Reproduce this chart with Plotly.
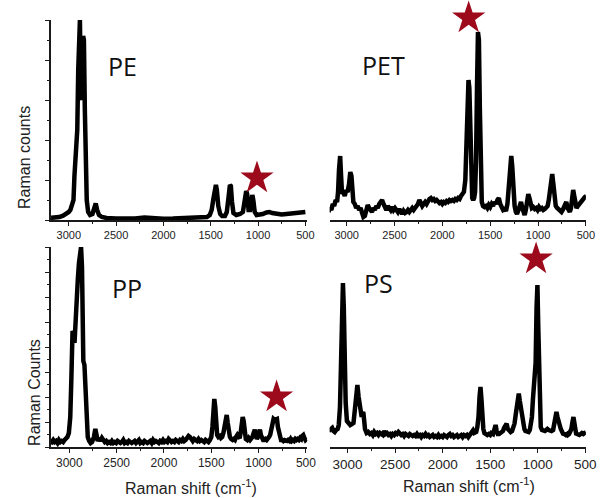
import plotly.graph_objects as go

W, H = 608, 498

# ---------------- data (wavenumber cm-1, relative counts 0-100) ----------------
pe_x = [3200, 3150, 3100, 3060, 3030, 3000, 2983, 2965, 2950, 2940, 2930, 2920, 2910, 2900, 2892, 2882,
        2872, 2864, 2856, 2848, 2840, 2830, 2820, 2810, 2795, 2775, 2750, 2730, 2715, 2700, 2680, 2650,
        2600, 2500, 2400, 2300, 2200, 2100, 2000, 1900, 1800, 1700, 1600, 1540, 1510, 1490, 1470, 1455,
        1445, 1435, 1420, 1400, 1380, 1350, 1330, 1310, 1297, 1287, 1275, 1260, 1230, 1190, 1160, 1140,
        1125, 1115, 1100, 1085, 1070, 1060, 1050, 1035, 1015, 990, 950, 910, 880, 850, 800, 750, 700,
        650, 600, 550, 500]
pe_y = [1, 1.2, 1.5, 2.2, 3, 4, 5, 7, 10, 22, 34, 38, 45, 75, 100, 100,
        62, 60, 85, 92, 90, 55, 25, 10, 4, 2.5, 3, 6, 8.3, 5, 2.5, 1.5,
        1, 0.8, 0.5, 0.7, 1.2, 0.8, 0.6, 0.7, 0.8, 0.9, 1.2, 1.5, 2.5, 5, 11, 16,
        17.5, 15, 7, 3, 2, 2, 4, 12, 17.5, 17, 9, 3.5, 2.5, 3, 4, 10,
        14.5, 13, 5, 5, 11, 12.5, 10, 4, 2.5, 2.5, 3, 3.8, 4, 3.5, 3, 2.8, 3,
        3.2, 3.3, 3.6, 4]

pet_x = [3190, 3175, 3160, 3145, 3130, 3115, 3100, 3090, 3080, 3068, 3058, 3048, 3035, 3020, 3005, 2990,
         2975, 2962, 2950, 2940, 2930, 2915, 2900, 2885, 2870, 2855, 2840, 2825, 2810, 2795, 2780, 2765,
         2750, 2735, 2720, 2705, 2690, 2675, 2660, 2645, 2630, 2615, 2600, 2585, 2570, 2555, 2540, 2525,
         2510, 2495, 2480, 2465, 2450, 2435, 2420, 2405, 2390, 2375, 2360, 2345, 2330, 2315, 2300, 2285,
         2270, 2255, 2240, 2225, 2210, 2195, 2180, 2165, 2150, 2135, 2120, 2105, 2090, 2075, 2060, 2045,
         2030, 2015, 2000, 1985, 1970, 1955, 1940, 1925, 1910, 1895, 1880, 1865, 1850, 1835, 1820, 1805,
         1790, 1775, 1760, 1745, 1735, 1727, 1718, 1708, 1698, 1688, 1678, 1668, 1658, 1648, 1638, 1628,
         1618, 1608, 1598, 1588, 1575, 1560, 1545, 1530, 1515, 1500, 1485, 1470, 1455, 1440, 1425, 1410,
         1395, 1380, 1365, 1350, 1335, 1320, 1305, 1292, 1280, 1270, 1258, 1245, 1232, 1220, 1205, 1190,
         1178, 1165, 1152, 1140, 1128, 1115, 1102, 1090, 1078, 1065, 1050, 1035, 1020, 1005, 990, 975,
         960, 945, 930, 915, 900, 888, 876, 864, 852, 840, 828, 815, 800, 785, 770, 755, 742, 730, 718,
         705, 692, 680, 668, 656, 645, 633, 622, 610, 598, 585, 570, 555, 540, 525, 510, 495]
pet_y = [4, 6, 5, 8, 7, 10, 9, 14, 25, 32, 22, 13, 14, 12, 15, 14,
         18, 24, 22, 14, 9, 8, 6, 7, 5, 6, 3, 1.5, 2, 4, 7.5, 6,
         5, 4, 6, 5, 7, 6, 8, 9.5, 10, 8, 6, 5, 7, 6, 5, 6.5,
         5, 6, 5, 4, 5.5, 4, 3, 4.5, 3.5, 4, 5, 4, 5.5, 6, 5, 6.5,
         7, 8, 10, 8.5, 7, 8, 9, 8, 9.5, 10.5, 11, 10, 10.5, 9.5, 10, 9,
         8.5, 9, 8, 9, 8.5, 9.5, 9, 10, 9.5, 10, 9.5, 10.5, 10, 11, 10.5, 12,
         13, 14, 20, 42, 63, 70, 66, 42, 18, 11, 10, 11, 14, 30, 66, 94,
         90, 55, 20, 9, 7, 6.5, 7, 6, 7.5, 6.5, 8, 7, 9, 8, 10, 11,
         8, 6, 5, 5.5, 4.5, 8, 15, 25, 32, 27, 14, 7, 4, 3, 5, 8,
         9, 6, 3, 2.5, 5, 10, 13, 11, 7, 6, 6.5, 5.5, 6, 5, 6.5, 5.5,
         6, 5, 5.5, 6, 7, 10, 16, 21, 23, 18, 10, 7, 6, 5.5, 5, 4, 5, 6, 8,
         9, 6, 4.5, 4, 6, 11, 15, 12, 7, 6, 7, 8, 9, 10, 11, 11.5, 12]

pp_x = [3200, 3185, 3170, 3155, 3140, 3125, 3110, 3095, 3080, 3065, 3050, 3035, 3020, 3005, 2990, 2979,
        2966, 2955, 2945, 2932, 2921, 2910, 2898, 2886, 2876, 2866, 2858, 2852, 2840, 2828, 2818, 2805,
        2790, 2775, 2760, 2740, 2725, 2712, 2700, 2685, 2670, 2655, 2640, 2625, 2610, 2595, 2580, 2565,
        2550, 2535, 2520, 2505, 2490, 2475, 2460, 2445, 2430, 2415, 2400, 2385, 2370, 2355, 2340, 2325,
        2310, 2295, 2280, 2265, 2250, 2235, 2220, 2205, 2190, 2175, 2160, 2145, 2130, 2115, 2100, 2085,
        2070, 2055, 2040, 2025, 2010, 1995, 1980, 1965, 1950, 1935, 1920, 1905, 1890, 1875, 1860, 1845,
        1830, 1815, 1800, 1785, 1770, 1755, 1740, 1725, 1710, 1695, 1680, 1665, 1650, 1635, 1620, 1605,
        1590, 1575, 1560, 1545, 1530, 1515, 1500, 1488, 1478, 1468, 1458, 1448, 1438, 1425, 1410, 1398,
        1385, 1372, 1360, 1348, 1337, 1326, 1315, 1303, 1290, 1275, 1262, 1250, 1238, 1225, 1212, 1200,
        1190, 1180, 1168, 1158, 1148, 1135, 1120, 1105, 1090, 1078, 1065, 1052, 1040, 1030, 1018, 1008,
        998, 986, 976, 965, 952, 940, 928, 915, 902, 890, 878, 866, 855, 842, 830, 818, 806, 796, 786,
        775, 763, 750, 738, 725, 712, 700, 688, 675, 662, 650, 638, 625, 612, 600, 588, 575, 562, 550,
        540, 528, 516, 505, 494]
pp_y = [3, 2.5, 3.5, 2.5, 3, 2, 3.5, 2.5, 3, 2.5, 3.5, 4, 5, 7, 15, 33,
        58, 57, 52, 70, 78, 84, 92, 100, 100, 90, 60, 43, 41, 25, 12, 5,
        3, 2, 2.5, 5, 9, 6, 3, 4.5, 3, 4.5, 3, 2.5, 3, 2, 2.5, 2,
        3, 2, 2.5, 2, 3, 2.5, 2, 2.5, 3.5, 2, 2.5, 2, 3, 2.5, 2, 2.5,
        3, 2, 2.5, 3.5, 2, 2.5, 2, 3, 2.5, 2, 2.5, 3, 2, 3.5, 2.5, 3,
        2.5, 2, 3, 2.5, 3.5, 2.5, 3, 2.5, 4, 3, 2.5, 3, 2.5, 3.5, 3, 2.5,
        3.5, 3, 4, 3, 3.5, 4.5, 5.5, 5, 3.5, 3, 4, 3.5, 3, 4, 3, 3.5,
        3, 2.5, 3.5, 3, 2.5, 3.5, 5, 10, 18, 24, 20, 10, 6, 5, 5.5, 4.5,
        5, 7, 11, 15, 16, 12, 7, 5, 4, 3.5, 4, 3.5, 5, 6, 5, 4.5,
        7, 12, 15, 13, 7, 4, 3.5, 4.5, 3.5, 4, 5, 7, 8.7, 6, 4, 5,
        8, 8.7, 6, 4.5, 3.5, 3.5, 4, 3.5, 5, 5, 6, 9, 12, 14, 13.5, 14, 14, 10, 7,
        5, 3.5, 3.5, 3, 3.5, 3, 3, 3.5, 3, 4, 3, 3.5, 3, 4, 3.5, 4, 3.5, 4.5, 4,
        5.5, 6, 4.5, 3.5, 4]

ps_x = [3200, 3189, 3175, 3162, 3148, 3135, 3120, 3105, 3093, 3080, 3069, 3058, 3049, 3040, 3030, 3020,
        3007, 2990, 2972, 2955, 2938, 2925, 2914, 2905, 2897, 2884, 2869, 2860, 2852, 2843, 2835, 2825,
        2817, 2800, 2783, 2765, 2750, 2735, 2720, 2705, 2690, 2675, 2660, 2645, 2630, 2615, 2600, 2585,
        2570, 2555, 2540, 2525, 2510, 2495, 2480, 2465, 2450, 2435, 2420, 2405, 2390, 2375, 2360, 2345,
        2330, 2315, 2300, 2285, 2270, 2255, 2240, 2225, 2210, 2195, 2180, 2165, 2150, 2135, 2120, 2105,
        2090, 2075, 2060, 2045, 2030, 2015, 2000, 1985, 1970, 1955, 1940, 1925, 1910, 1895, 1880, 1865,
        1850, 1835, 1820, 1805, 1790, 1775, 1760, 1745, 1730, 1715, 1700, 1688, 1681, 1668, 1655, 1647,
        1635, 1623, 1612, 1602, 1592, 1583, 1572, 1561, 1545, 1530, 1515, 1500, 1488, 1470, 1455, 1443,
        1432, 1420, 1406, 1392, 1378, 1365, 1354, 1340, 1327, 1315, 1300, 1285, 1270, 1257, 1244, 1232,
        1220, 1210, 1199, 1188, 1175, 1164, 1152, 1140, 1130, 1115, 1096, 1083, 1072, 1061, 1050, 1040,
        1030, 1022, 1012, 1003, 994, 986, 978, 968, 955, 940, 924, 910, 898, 885, 870, 855, 838, 825,
        815, 803, 792, 781, 769, 757, 745, 734, 720, 705, 690, 683, 670, 658, 646, 636, 624, 614, 605,
        596, 585, 573, 562, 548, 535, 520, 505, 493]
ps_y = [8, 8.3, 9, 9.5, 8, 7.5, 8.5, 9, 11, 20, 42, 70, 82, 70, 40, 22,
        13, 11.5, 11, 11.5, 12, 18, 25, 30, 31, 25, 18, 15, 15, 17, 17.5, 13,
        9, 7, 7.5, 6.5, 7, 6, 7.5, 6.5, 7, 6, 7, 6.5, 6, 8, 6.5, 7,
        6, 6.5, 5.5, 6.5, 6, 7, 6.5, 7.5, 6.5, 6, 6.5, 5.5, 6.5, 6, 5.5, 6.5,
        6, 5.5, 6, 5.5, 6.5, 5.5, 6, 5, 6, 5.5, 6.5, 5.5, 6, 5, 5.5, 6,
        5, 5.5, 5, 6, 5, 5.5, 5, 6, 5.5, 5, 6, 6.5, 5.5, 6, 5, 5.5,
        6, 5, 5.5, 6, 5, 6, 5.5, 6, 5, 6, 6.5, 8, 8.3, 7, 7, 7.5,
        10, 15, 25, 30, 24, 13, 9, 7, 6.5, 6, 6.5, 6, 7, 6.5, 9, 11,
        8, 6.5, 6.5, 7, 7.5, 8, 9.5, 11, 11.7, 9, 8, 7.5, 8, 9.5, 11.7, 16,
        22, 26, 26.7, 23, 18, 15.8, 12, 9, 8, 7.5, 7.5, 8.5, 11, 15, 24, 30,
        32, 42, 70, 81, 60, 33, 15, 10, 8.5, 8, 8, 8.5, 9, 8.5, 8, 8, 8.5, 11,
        15, 17.5, 15, 12, 11, 9, 7.5, 6.7, 6.5, 6, 6.5, 6, 6.5, 7.5, 9, 12, 15, 12, 8,
        6.7, 6.5, 6, 6, 6.5, 7, 6.5, 7.5, 7.5]

# star markers (wavenumber, relative height) marking key bands
star_pe = (1011, 21)
star_pet = (1725, 101)
star_pp = (810, 25)
star_ps = (1017, 94)

x_major = [3000, 2500, 2000, 1500, 1000, 500]
x_minor = [2750, 2250, 1750, 1250, 750]
y_major_top = [0, 20, 40, 60, 80, 100]
y_minor_top = [10, 30, 50, 70, 90]
y_major_bot = [0, 12.5, 25, 37.5, 50, 62.5, 75, 87.5, 100]
y_minor_bot = [6.25, 18.75, 31.25, 43.75, 56.25, 68.75, 81.25, 93.75]

panel_names = ["PE", "PET", "PP", "PS"]

# ---------------- figure ----------------
STAR = "#9C0A1C"
AX = "#1a1a1a"

def px(v):
    return v / W

def py(v):
    return 1 - v / H

fig = go.Figure()

def spec(x, y, n):
    fig.add_trace(go.Scatter(x=x, y=y, xaxis="x" + n, yaxis="y" + n, mode="lines",
                             line=dict(color="black", width=4.5), showlegend=False,
                             hoverinfo="skip"))

def star(pt, n):
    fig.add_trace(go.Scatter(x=[pt[0]], y=[pt[1]], xaxis="x" + n, yaxis="y" + n, mode="markers",
                             marker=dict(symbol="star", size=25, color=STAR, line=dict(width=0)),
                             cliponaxis=False, showlegend=False, hoverinfo="skip"))

spec(pe_x, pe_y, "")
spec(pet_x, pet_y, "2")
spec(pp_x, pp_y, "3")
spec(ps_x, ps_y, "4")
star(star_pe, "")
star(star_pet, "2")
star(star_pp, "3")
star(star_ps, "4")

def xax(d0, d1, rng, anchor, fs):
    return dict(domain=[px(d0), px(d1)], range=rng, anchor=anchor, showline=True,
                linecolor=AX, linewidth=1.5, ticks="outside", ticklen=4, tickwidth=1.3,
                tickcolor=AX, tickvals=x_major, ticktext=[str(v) for v in x_major],
                tickfont=dict(family="Liberation Sans, Arial", size=fs, color="#222"),
                minor=dict(tickvals=x_minor, ticks="outside", ticklen=2, tickwidth=1.1,
                           tickcolor=AX),
                showgrid=False, zeroline=False, fixedrange=True)

def yax(t0, t1, anchor, major, minor, visible=True, top=100):
    d = dict(domain=[py(t1), py(t0)], range=[0, top], anchor=anchor, showgrid=False,
             zeroline=False, fixedrange=True)
    if visible:
        d.update(showline=True, linecolor=AX, linewidth=1.5, ticks="outside", ticklen=4,
                 tickwidth=1.3, tickcolor=AX, tickvals=major, showticklabels=False,
                 minor=dict(tickvals=minor, ticks="outside", ticklen=2.5, tickwidth=1.1,
                            tickcolor=AX))
    else:
        d.update(visible=False)
    return d

fig.update_layout(
    width=W, height=H,
    margin=dict(l=0, r=0, t=0, b=0),
    paper_bgcolor="white", plot_bgcolor="white",
    showlegend=False,
    xaxis=xax(52, 313, [3187, 479], "y", 11),
    yaxis=yax(20, 220, "x", y_major_top, y_minor_top),
    xaxis2=xax(335.7, 596.7, [3178, 500], "y2", 11),
    # hidden axis spans 0..110 over pixels 0..220 so 0..100 maps to 20..220 like the PE panel
    yaxis2=yax(0, 220, "x2", y_major_top, y_minor_top, visible=False, top=110),
    xaxis3=xax(51.7, 313, [3196, 485], "y3", 12),
    yaxis3=yax(247, 447, "x3", y_major_bot, y_minor_bot),
    xaxis4=xax(335.7, 596.7, [3189, 493], "y4", 13.5),
    yaxis4=yax(227, 447, "x4", y_major_bot, y_minor_bot, visible=False, top=110),
)

label_font = dict(family="Open Sans, DejaVu Sans", size=25, color="#111")
title_font = dict(family="Liberation Sans, Arial", size=16, color="#222")

anns = []
for name, (cx, cy) in zip(panel_names, [(125, 66), (391, 64.5), (129, 288), (385, 283)]):
    anns.append(dict(text=name, x=px(cx), y=py(cy), xref="paper", yref="paper",
                     xanchor="center", yanchor="middle", showarrow=False, font=label_font))
anns.append(dict(text="Raman counts", x=px(25.5), y=py(158), xref="paper", yref="paper",
                 xanchor="center", yanchor="middle", textangle=-90, showarrow=False, font=title_font))
anns.append(dict(text="Raman Counts", x=px(34.5), y=py(392), xref="paper", yref="paper",
                 xanchor="center", yanchor="middle", textangle=-90, showarrow=False, font=title_font))
anns.append(dict(text="Raman shift (cm<sup>-1</sup>)", x=px(194.5), y=py(487), xref="paper",
                 yref="paper", xanchor="center", yanchor="middle", showarrow=False, font=title_font))
anns.append(dict(text="Raman shift (cm<sup>-1</sup>)", x=px(478), y=py(485), xref="paper",
                 yref="paper", xanchor="center", yanchor="middle", showarrow=False, font=title_font))
fig.update_layout(annotations=anns)

fig.write_html("out.html")
